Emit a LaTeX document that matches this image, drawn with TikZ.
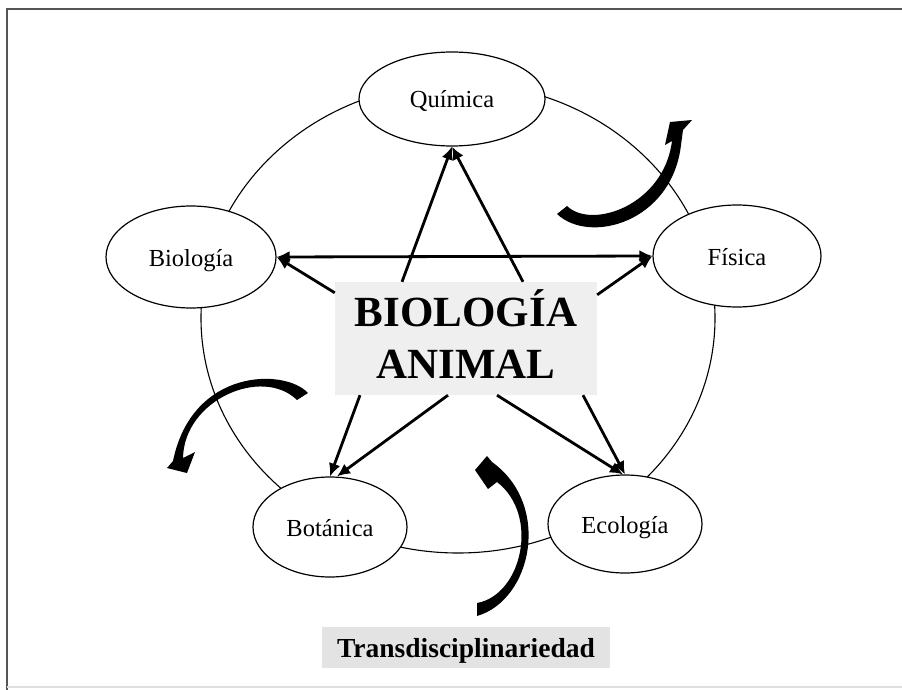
\documentclass[tikz,border=0pt]{standalone}
\usepackage{fontspec}
\setmainfont{Liberation Serif}
\usetikzlibrary{shapes.geometric,arrows.meta}
\definecolor{boxgray}{HTML}{EFEFEF}
\definecolor{tgray}{HTML}{E3E3E3}
\definecolor{framegray}{HTML}{555555}
\begin{document}
\begin{tikzpicture}[x=1pt,y=-1pt,
  disc/.style={ellipse,draw=black,line width=1.2pt,fill=white,inner sep=0pt,
    text height=18pt,text depth=0pt,font=\fontsize{24.5}{28}\selectfont},
  arr/.style={line width=2.8pt,-{Latex[length=13pt,width=12pt]}},
  dbl/.style={line width=2.8pt,{Latex[length=13pt,width=12pt]}-{Latex[length=13pt,width=12pt]}},
  ring/.style={line width=1.1pt},
  frameline/.style={draw=framegray,line width=1.4pt},
  curvedarrow/.style={fill=black}
]
\useasboundingbox (0,0) rectangle (902,690);
% frame
\draw[frameline] (7,690) -- (7,9) -- (902,9);
\draw[gray!25,line width=1.5pt] (7,687) -- (902,687);
% big ring
\draw[ring] (458,318) ellipse [x radius=257, y radius=235];
% curved thick arrows
\fill[curvedarrow] (557,214) .. controls (590,245) and (672,222) .. (681,145)
  -- (683,130) -- (692,120) -- (670,122) -- (665,145) -- (672,141)
  .. controls (664,205) and (592,230) .. (567,206) -- cycle;
\fill[curvedarrow] (308,393) .. controls (285,368) and (192,368) .. (173,461)
  -- (167,468) -- (187,473) -- (195,452) -- (183,458)
  .. controls (184,400) and (262,366) .. (297,400) -- cycle;
\fill[curvedarrow] (477,616) .. controls (532,600) and (552,505) .. (492,462)
  -- (487,456) -- (475,470) -- (488,489) -- (497,482)
  .. controls (540,515) and (522,595) .. (477,603) -- cycle;
% discipline nodes
\node[disc,minimum width=186pt,minimum height=94pt] (qui) at (452,99) {Química};
\node[disc,minimum width=170pt,minimum height=102pt] (bio) at (191,257) {Biología};
\node[disc,minimum width=168pt,minimum height=102pt] (fis) at (737,256) {Física};
\node[disc,minimum width=154pt,minimum height=100pt] (bot) at (330,527) {Botánica};
\node[disc,minimum width=154pt,minimum height=98pt] (eco) at (625,524) {Ecología};
% central box
\node[fill=boxgray,minimum width=262pt,minimum height=113pt,inner sep=0pt,align=center,
  font=\bfseries\fontsize{43}{52}\selectfont] (core) at (466,338.5)
  {BIOLOGÍA\\ANIMAL\rule[-8pt]{0pt}{8pt}};
% bottom label
\node[fill=tgray,minimum width=288pt,minimum height=41pt,inner sep=0pt,
  font=\bfseries\fontsize{27.5}{30}\selectfont] (trans) at (466,647.5)
  {\rule{0pt}{26.5pt}Transdisciplinariedad\hspace{11pt}};
% straight arrows
\draw[arr] ([xshift=-64pt]core.north) -- (qui.south);
\draw[arr] ([xshift=57pt]core.north) -- (qui.south);
\draw[dbl] (bio.east) -- (fis.west);
\draw[arr] ([yshift=-11pt]core.north west) -- (bio.east);
\draw[arr] ([yshift=-13pt]core.north east) -- (fis.west);
\draw[arr] ([xshift=-106pt]core.south) -- (bot.north);
\draw[arr] ([xshift=-18pt]core.south) -- ([xshift=7pt]bot.north);
\draw[arr] ([xshift=31pt]core.south) -- ([xshift=-2pt]eco.north);
\draw[arr] ([xshift=117pt]core.south) -- (eco.north);
\end{tikzpicture}
\end{document}
